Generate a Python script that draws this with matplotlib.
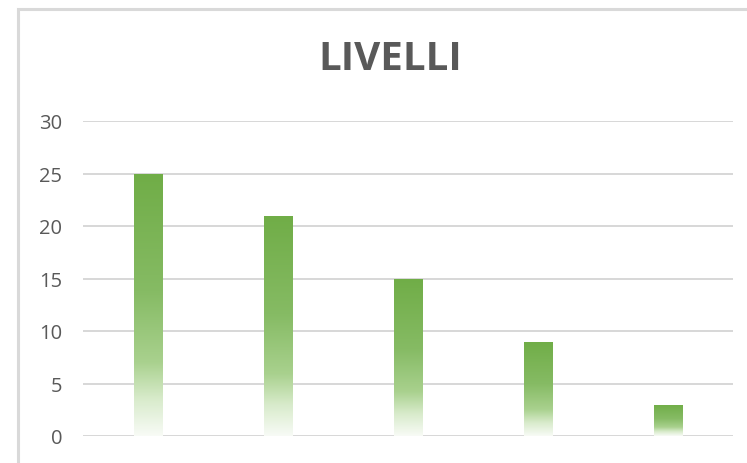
import matplotlib
matplotlib.use("Agg")
import matplotlib.pyplot as plt
import numpy as np
from matplotlib.colors import LinearSegmentedColormap
from matplotlib.patches import Rectangle

categories = ["1", "2", "3", "4", "5"]
values = [25, 21, 15, 9, 3]
yticks = [0, 5, 10, 15, 20, 25, 30]
title = "LIVELLI"

W, H = 747, 464
fig = plt.figure(figsize=(W / 100, H / 100), dpi=100)
fig.patch.set_facecolor("white")

ax = fig.add_axes([83 / W, 27 / H, 650 / W, 315 / H])
ax.set_xlim(-0.5, len(categories) - 0.5)
ax.set_ylim(0, 30)

grad = LinearSegmentedColormap.from_list(
    "g",
    [(0.0, "#70AD47"), (0.45, "#86BB64"), (0.72, "#A9D18E"),
     (0.86, "#D8EBCB"), (1.0, "#F8FBF6")])

x = np.arange(len(categories))
bars = ax.bar(x, values, width=0.223, color="none", edgecolor="none", zorder=3)
g = np.linspace(0, 1, 256).reshape(-1, 1)
for b in bars:
    x0, w, h = b.get_x(), b.get_width(), b.get_height()
    im = ax.imshow(g, cmap=grad, extent=[x0, x0 + w, 0, h], aspect="auto",
                   origin="upper", zorder=3, interpolation="bilinear")
    im.set_clip_path(b)
ax.set_xlim(-0.5, len(categories) - 0.5)
ax.set_ylim(0, 30)

ax.set_yticks(yticks)
ax.set_yticklabels([str(t) for t in yticks], fontsize=14.5, color="#595959",
                   family=["Open Sans", "DejaVu Sans"])
ax.set_xticks([])
ax.tick_params(axis="y", length=0, pad=15)
ax.grid(axis="y", color="#D4D4D4", linewidth=1.3, zorder=0)
ax.set_axisbelow(True)
for s in ax.spines.values():
    s.set_visible(False)

fig.text(390 / W, 1 - 60 / H, title, ha="center", va="center", fontsize=29,
         fontweight="bold", color="#595959", family=["Open Sans", "DejaVu Sans"])

fig.patches.append(Rectangle((17.5 / W, -0.1), 1.2, (H - 9.5) / H + 0.1,
                             transform=fig.transFigure, fill=False,
                             edgecolor="#D9D9D9", linewidth=2.2))

fig.savefig("out.png", dpi=100)
